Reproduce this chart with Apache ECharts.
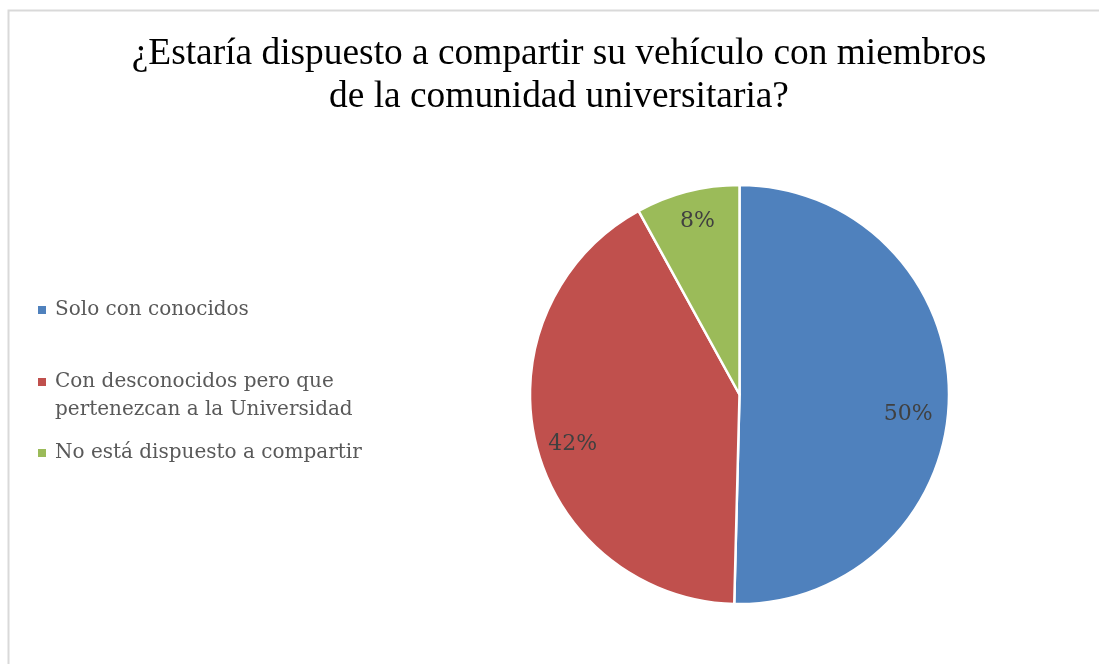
<!DOCTYPE html>
<html style="height: 100%">
<head>
    <meta charset="UTF-8">
    <title>¿Estaría dispuesto a compartir su vehículo?</title>
    <script src="https://cdn.jsdelivr.net/npm/echarts@6/dist/echarts.min.js"></script>
</head>
<body style="height: 100%; margin: 0; background: #fff">
    <div id="container" style="width: 1099px; height: 664px"></div>

    <script type="text/javascript">
        // datos
        var categorias = ['Solo con conocidos', 'Con desconocidos pero que pertenezcan a la Universidad', 'No está dispuesto a compartir'];
        var valores = [50.4, 41.6, 8.0];
        var colores = ['#4F81BD', '#C0504D', '#9BBB59'];

        var myChart = echarts.init(document.getElementById('container'));

        var datos = [];
        for (var i = 0; i < categorias.length; i++) {
            datos.push({name: categorias[i], value: valores[i]});
        }

        var legendText = {
            fontFamily: 'DejaVu Serif',
            fontSize: 20,
            color: '#595959',
            lineHeight: 28
        };

        var sp = '\u2009'; // un poco mas de separacion entre cuadro y texto

        function makeLegend(name, top) {
            return {
                orient: 'vertical',
                left: 38,
                top: top,
                padding: 0,
                icon: 'rect',
                itemWidth: 8,
                itemHeight: 8,
                itemGap: 0,
                itemStyle: {borderWidth: 0},
                selectedMode: false,
                data: [name],
                formatter: function (n) {
                    // linea vacia arriba para que el cuadro quede junto a la primera linea
                    if (n === categorias[1]) {
                        return '\n' + sp + 'Con desconocidos pero que\n' + sp + 'pertenezcan a la Universidad';
                    }
                    return sp + n;
                },
                textStyle: legendText
            };
        }

        // ajuste fino de las etiquetas (colocacion tipo "mejor ajuste")
        function ajusteEtiqueta(p) {
            if (p.dataIndex === 0) return {dx: -8, dy: 18};
            if (p.dataIndex === 1) return {dx: 5, dy: 8};
            return {dx: 2, dy: -2};
        }

        var option = {
            color: colores,
            animation: false,
            title: {
                text: '¿Estaría dispuesto a compartir su vehículo con miembros\nde la comunidad universitaria?',
                left: 559,
                textAlign: 'center',
                top: 33,
                padding: 0,
                textStyle: {
                    fontFamily: 'Liberation Serif',
                    fontSize: 37.4,
                    fontWeight: 'normal',
                    color: '#000000',
                    lineHeight: 43
                }
            },
            graphic: [{
                type: 'rect',
                left: 6,
                top: 8,
                shape: {width: 1200, height: 700},
                style: {fill: 'none', stroke: '#d9d9d9', lineWidth: 2},
                silent: true
            }],
            legend: [
                makeLegend(categorias[0], 296),
                makeLegend(categorias[1], 340),
                makeLegend(categorias[2], 439)
            ],
            series: [
                {
                    type: 'pie',
                    center: [739.5, 394.5],
                    radius: 209.5,
                    startAngle: 90,
                    clockwise: true,
                    silent: true,
                    label: {show: false},
                    labelLine: {show: false},
                    itemStyle: {borderColor: '#ffffff', borderWidth: 2.5},
                    data: datos
                },
                {
                    // solo para colocar las etiquetas a ~0.83 del radio
                    type: 'pie',
                    center: [739.5, 394.5],
                    radius: [138, 209.5],
                    startAngle: 90,
                    clockwise: true,
                    silent: true,
                    percentPrecision: 0,
                    itemStyle: {color: 'rgba(0,0,0,0)'},
                    label: {
                        show: true,
                        position: 'inside',
                        formatter: '{d}%',
                        fontFamily: 'DejaVu Serif',
                        fontSize: 22,
                        color: '#404040'
                    },
                    labelLine: {show: false},
                    labelLayout: ajusteEtiqueta,
                    data: datos
                }
            ]
        };

        myChart.setOption(option);
    </script>
</body>
</html>
